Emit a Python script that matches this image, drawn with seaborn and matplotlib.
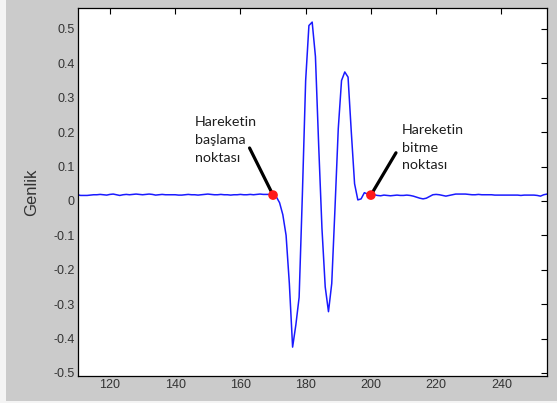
import numpy as np
import pandas as pd
import matplotlib
matplotlib.use("Agg")
import matplotlib.pyplot as plt
import seaborn as sns
from matplotlib.patches import Rectangle

# örnek numaraları ve genlik değerleri
sample_start = 110
genlik_once = [0.018, 0.016, 0.016, 0.016, 0.017, 0.018, 0.018, 0.019, 0.018, 0.017,
               0.019, 0.020, 0.018, 0.016, 0.018, 0.019, 0.018, 0.019, 0.020, 0.019,
               0.018, 0.019, 0.020, 0.019, 0.017, 0.018, 0.019, 0.018, 0.018, 0.018,
               0.018, 0.017, 0.017, 0.018, 0.019, 0.018, 0.018, 0.017, 0.018, 0.019,
               0.020, 0.019, 0.018, 0.018, 0.019, 0.018, 0.018, 0.017, 0.018, 0.018,
               0.019, 0.018, 0.018, 0.019, 0.018, 0.019, 0.020, 0.019, 0.019, 0.019]
# 170 - 200 arası hareket
genlik_hareket = [0.017, 0.012, -0.005, -0.04, -0.10, -0.24, -0.425, -0.36, -0.28, 0.02,
                  0.35, 0.51, 0.52, 0.42, 0.16, -0.08, -0.25, -0.322, -0.24, -0.02,
                  0.21, 0.35, 0.375, 0.36, 0.20, 0.05, 0.003, 0.006, 0.024, 0.020,
                  0.017]
genlik_sonra = [0.018, 0.016, 0.015, 0.017, 0.016, 0.015, 0.016, 0.017, 0.016, 0.016,
                0.017, 0.016, 0.014, 0.011, 0.008, 0.006, 0.008, 0.013, 0.018, 0.019,
                0.018, 0.016, 0.014, 0.016, 0.018, 0.020, 0.020, 0.020, 0.020, 0.019,
                0.018, 0.018, 0.019, 0.018, 0.018, 0.018, 0.018, 0.017, 0.017, 0.017,
                0.017, 0.017, 0.017, 0.017, 0.017, 0.016, 0.017, 0.017, 0.017, 0.017,
                0.016, 0.014, 0.018, 0.020]

genlik = genlik_once + genlik_hareket + genlik_sonra
ornek = list(range(sample_start, sample_start + len(genlik)))

baslama_x = 170
bitme_x = 200

x_ticks = [120, 140, 160, 180, 200, 220, 240]
y_ticks = [0.5, 0.4, 0.3, 0.2, 0.1, 0, -0.1, -0.2, -0.3, -0.4, -0.5]
y_tick_labels = ['0.5', '0.4', '0.3', '0.2', '0.1', '0', '-0.1', '-0.2', '-0.3', '-0.4', '-0.5']

df = pd.DataFrame({'ornek': ornek, 'genlik': genlik})
noktalar = df[df['ornek'].isin([baslama_x, bitme_x])]

sns.set_theme(style="white")
plt.rcParams['font.family'] = ['Liberation Sans', 'DejaVu Sans']

fig = plt.figure(figsize=(5.57, 4.03), dpi=100, facecolor='#cbcbcb')
ax = fig.add_axes([78 / 557, 1 - 376 / 403, 469 / 557, 368 / 403])
ax.set_facecolor('white')

sns.lineplot(data=df, x='ornek', y='genlik', ax=ax, color='#1a1aff', linewidth=1.1)

# başlama / bitme işaretleri
p1 = noktalar.iloc[0]
p2 = noktalar.iloc[1]
ax.annotate('', xy=(p1['ornek'], p1['genlik']), xytext=(162.8, 0.154),
            arrowprops=dict(arrowstyle='-', lw=2.3, color='black', shrinkA=0, shrinkB=0))
ax.annotate('', xy=(p2['ornek'], p2['genlik']), xytext=(207.7, 0.14),
            arrowprops=dict(arrowstyle='-', lw=2.3, color='black', shrinkA=0, shrinkB=0))
sns.scatterplot(data=noktalar, x='ornek', y='genlik', ax=ax, color='#ff1a1a',
                s=48, edgecolor='none', zorder=5)

# metin konumu: son satırın taban çizgisi
ax.text(146, 0.113, 'Hareketin\nbaşlama\nnoktası', family=['Lato', 'DejaVu Sans'],
        fontsize=10.3, color='#1e1e1e', va='baseline', ha='left', linespacing=1.58)
ax.text(209.5, 0.092, 'Hareketin\nbitme\nnoktası', family=['Lato', 'DejaVu Sans'],
        fontsize=10.3, color='#1e1e1e', va='baseline', ha='left', linespacing=1.58)

ax.set_xlim(110.2, 254)
ax.set_ylim(-0.509, 0.561)
ax.set_xticks(x_ticks)
ax.set_yticks(y_ticks)
ax.set_yticklabels(y_tick_labels)
ax.tick_params(direction='in', length=4, width=0.8, top=True, right=True,
               labelsize=9, labelcolor='#333333', color='black', pad=2.5)
for s in ax.spines.values():
    s.set_color('black')
    s.set_linewidth(0.9)

ax.set_xlabel('')
ax.set_ylabel('Genlik', fontsize=12, color='#333333')
ax.yaxis.set_label_coords(-0.082, 0.5)

# kenar boşlukları (ekran görüntüsü)
fig.patches.append(Rectangle((0, 0), 6 / 557, 1, transform=fig.transFigure,
                             facecolor='#f4f4f4', edgecolor='none', zorder=-1))
fig.patches.append(Rectangle((0, 0), 1, 2 / 403, transform=fig.transFigure,
                             facecolor='#f4f4f4', edgecolor='none', zorder=-1))

fig.savefig('out.png', dpi=100, facecolor=fig.get_facecolor())
